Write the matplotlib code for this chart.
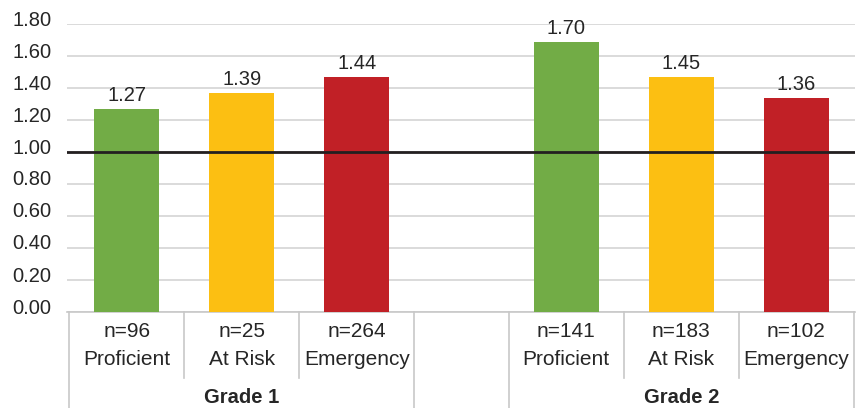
import matplotlib
matplotlib.use("Agg")
import matplotlib.pyplot as plt
import matplotlib.transforms as mtransforms

plt.rcParams['font.family'] = ['Liberation Sans', 'DejaVu Sans']

# ---- data ----
grades = ["Grade 1", "Grade 2"]
levels = ["Proficient", "At Risk", "Emergency"]
g1_n = ["n=96", "n=25", "n=264"]
g2_n = ["n=141", "n=183", "n=102"]
g1_values = [1.27, 1.37, 1.47]          # bar heights as drawn
g2_values = [1.69, 1.47, 1.34]
g1_labels = ["1.27", "1.39", "1.44"]    # printed data labels
g2_labels = ["1.70", "1.45", "1.36"]
yticks = [0.0, 0.2, 0.4, 0.6, 0.8, 1.0, 1.2, 1.4, 1.6, 1.8]
ref_value = 1.0

colors = ["#72AC46", "#FCBF12", "#C12026"]
text_color = "#262626"

fig = plt.figure(figsize=(8.61, 4.08), dpi=100)
W, H = 861, 408
ax = fig.add_axes([67 / W, 1 - 312 / H, (855 - 67) / W, (312 - 24) / H])

group_offsets = [0.0, 3.82]
bar_w = 0.565

all_values = [g1_values, g2_values]
all_labels = [g1_labels, g2_labels]
all_n = [g1_n, g2_n]

for gi, off in enumerate(group_offsets):
    xs = [off + i for i in range(len(levels))]
    bars = ax.bar(xs, all_values[gi], width=bar_w, color=colors, zorder=3)
    for b, lab in zip(bars, all_labels[gi]):
        ax.annotate(lab, (b.get_x() + b.get_width() / 2, b.get_height()),
                    xytext=(0, 5.8), textcoords="offset points",
                    ha="center", va="baseline", fontsize=14.5, color=text_color)

ax.set_xlim(-0.52, 6.33)
ax.set_ylim(0, 1.8)
ax.set_yticks(yticks)
ax.set_yticklabels([f"{v:.2f}" for v in yticks])
ax.tick_params(axis="y", length=0, pad=11, labelsize=14.5, labelcolor=text_color)
offset = mtransforms.ScaledTranslation(0, 6 / 100, fig.dpi_scale_trans)
for lab in ax.get_yticklabels():
    lab.set_transform(lab.get_transform() + offset)
ax.set_xticks([])
ax.grid(axis="y", color="#d4d4d4", linewidth=1.2, zorder=0)
ax.set_axisbelow(True)
for s in ["top", "right", "left"]:
    ax.spines[s].set_visible(False)
ax.spines["bottom"].set_color("#c8c8c8")
ax.spines["bottom"].set_linewidth(1.2)

ax.axhline(ref_value, color="#231f20", linewidth=2.0, zorder=4)

# multi-level category axis
trans = mtransforms.blended_transform_factory(ax.transData, fig.transFigure)
y_axis = 1 - 312 / H
y_inner = 1 - 378 / H
for gi, off in enumerate(group_offsets):
    edges = [off - 0.5 + k for k in range(len(levels) + 1)]
    for k, e in enumerate(edges):
        y_end = 0.0 if k in (0, len(levels)) else y_inner
        ax.plot([e, e], [y_axis, y_end], transform=trans, color="#c8c8c8",
                linewidth=1.2, clip_on=False)
    for i in range(len(levels)):
        x = off + i
        ax.text(x, 1 - 337 / H, all_n[gi][i], transform=trans, ha="center",
                va="baseline", fontsize=15, color=text_color)
        ax.text(x, 1 - 365 / H, levels[i], transform=trans, ha="center",
                va="baseline", fontsize=15, color=text_color)
    ax.text(off + 1, 1 - 403 / H, grades[gi], transform=trans, ha="center",
            va="baseline", fontsize=14.5, fontweight="bold", color=text_color)

fig.savefig("out.png", dpi=100)
